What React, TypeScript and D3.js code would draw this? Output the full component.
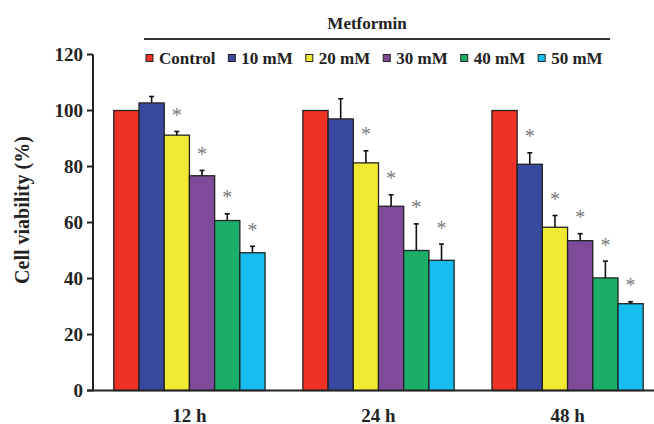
import React from "react";
import * as d3 from "d3";

const timepoints = ["12 h", "24 h", "48 h"];
const groups = ["Control", "10 mM", "20 mM", "30 mM", "40 mM", "50 mM"];
const colors = ["#EE3224", "#394A9E", "#F1EA32", "#804A9B", "#1AAE68", "#16BDEE"];

const viability12 = [100, 102.7, 91.2, 76.7, 60.7, 49.2];
const viability24 = [100, 97.0, 81.3, 65.8, 50.0, 46.5];
const viability48 = [100, 80.8, 58.3, 53.5, 40.2, 31.0];
const error12 = [0, 2.3, 1.3, 1.9, 2.4, 2.3];
const error24 = [0, 7.2, 4.3, 4.1, 9.5, 5.8];
const error48 = [0, 4.1, 4.2, 2.5, 6.0, 0.7];
const signif12 = [false, false, true, true, true, true];
const signif24 = [false, false, true, true, true, true];
const signif48 = [false, true, true, true, true, true];
const yTicks = [0, 20, 40, 60, 80, 100, 120];

const values = [viability12, viability24, viability48];
const errors = [error12, error24, error48];
const signifs = [signif12, signif24, signif48];

const W = 654;
const H = 424;
const FONT = "'Liberation Serif', 'Times New Roman', serif";

function measure(text: string, size: number): number {
  const c = document.createElement("canvas").getContext("2d");
  if (!c) return text.length * size * 0.5;
  c.font = `bold ${size}px ${FONT}`;
  return c.measureText(text).width;
}

export default function App() {
  const axisX = 93;
  const y = d3.scaleLinear().domain([0, 120]).range([390.5, 54.5]);
  const x = d3
    .scaleBand<string>()
    .domain(timepoints)
    .range([axisX, 664])
    .paddingInner(0.2)
    .paddingOuter(0.11);
  const xi = d3.scaleBand<string>().domain(groups).range([0, x.bandwidth()]);

  // legend layout
  const legendFont = 17;
  const sq = 7;
  let cursor = 146;
  const legendItems = groups.map((g, i) => {
    const item = { g, i, x: cursor };
    cursor += sq + 6 + measure(g, legendFont) + 13;
    return item;
  });

  return (
    <svg
      width={W}
      height={H}
      style={{ position: "absolute", left: 0, top: 0, background: "#fff" }}
      fontFamily={FONT}
      fontWeight="bold"
    >
      <rect x={0} y={0} width={W} height={H} fill="#fff" />
      {/* Metformin header */}
      <text x={367} y={23} textAnchor="middle" dominantBaseline="central" fontSize={17} fill="#222">
        Metformin
      </text>
      <line x1={144} x2={610} y1={39} y2={39} stroke="#333" strokeWidth={2} />
      {legendItems.map((it) => (
        <g key={it.g}>
          <rect
            x={it.x}
            y={54.5}
            width={sq}
            height={sq}
            fill={colors[it.i]}
            stroke="#222"
            strokeWidth={1}
          />
          <text x={it.x + sq + 6} y={58} dominantBaseline="central" fontSize={legendFont} fill="#222">
            {it.g}
          </text>
        </g>
      ))}

      {/* bars */}
      {timepoints.map((t, ti) => (
        <g key={t} transform={`translate(${x(t)},0)`}>
          {groups.map((g, gi) => {
            const v = values[ti][gi];
            const e = errors[ti][gi];
            const bx = xi(g) as number;
            const bw = xi.bandwidth();
            const cx = bx + bw / 2;
            const top = v + e;
            return (
              <g key={g}>
                <rect
                  x={bx}
                  y={y(v)}
                  width={bw}
                  height={y(0) - y(v)}
                  fill={colors[gi]}
                  stroke="#222"
                  strokeWidth={1.3}
                />
                {e > 0 && (
                  <g stroke="#111" strokeWidth={1.6}>
                    <line x1={cx} x2={cx} y1={y(v)} y2={y(top)} />
                    <line x1={cx - 2.5} x2={cx + 2.5} y1={y(top)} y2={y(top)} />
                  </g>
                )}
                {signifs[ti][gi] && (
                  <text
                    x={cx}
                    y={y(top) - 19 + 9.5}
                    textAnchor="middle"
                    fontSize={20}
                    fill="#7a7a7a"
                    fontWeight="normal"
                  >
                    *
                  </text>
                )}
              </g>
            );
          })}
        </g>
      ))}

      {/* y axis */}
      <line x1={axisX} x2={axisX} y1={y(120)} y2={y(0)} stroke="#222" strokeWidth={2} />
      {yTicks.map((t) => (
        <g key={t}>
          <line x1={axisX - 6} x2={axisX} y1={y(t)} y2={y(t)} stroke="#222" strokeWidth={2} />
          <text
            x={axisX - 10}
            y={y(t)}
            textAnchor="end"
            dominantBaseline="central"
            fontSize={19}
            fill="#222"
          >
            {t}
          </text>
        </g>
      ))}
      {/* x axis */}
      <line x1={axisX - 6} x2={W} y1={y(0)} y2={y(0)} stroke="#222" strokeWidth={2} />
      {timepoints.map((t) => (
        <text
          key={t}
          x={(x(t) as number) + x.bandwidth() / 2}
          y={415}
          textAnchor="middle"
          dominantBaseline="central"
          fontSize={19}
          fill="#222"
        >
          {t}
        </text>
      ))}
      <text
        transform={`translate(22,210) rotate(-90)`}
        textAnchor="middle"
        dominantBaseline="central"
        fontSize={20}
        fill="#222"
      >
        Cell viability (%)
      </text>
    </svg>
  );
}
